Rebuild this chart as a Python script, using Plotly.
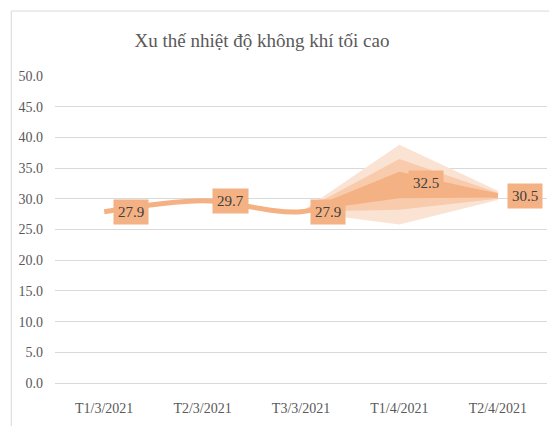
import plotly.graph_objects as go

categories = ["T1/3/2021", "T2/3/2021", "T3/3/2021", "T1/4/2021", "T2/4/2021"]
values = [27.9, 29.7, 27.9, 32.5, 30.5]

# forecast fan bands (from T3/3 to T2/4)
fan_idx = [2, 3, 4]
outer_upper = [27.9, 38.8, 31.3]
outer_lower = [27.9, 25.8, 29.8]
mid_upper = [27.9, 36.5, 31.0]
mid_lower = [27.9, 28.2, 30.0]
inner_upper = [27.9, 34.4, 30.8]
inner_lower = [27.9, 30.1, 30.2]

yticks = [0, 5, 10, 15, 20, 25, 30, 35, 40, 45, 50]
ytick_text = [f"{v:.1f}" for v in yticks]

C_DARK = "#F4B183"
C_MID = "#F8CBAD"
C_LIGHT = "#FBE3D3"
FONT = "Liberation Serif, Times New Roman, serif"

fig = go.Figure()

for up, lo, col in [(outer_upper, outer_lower, C_LIGHT),
                    (mid_upper, mid_lower, C_MID),
                    (inner_upper, inner_lower, C_DARK)]:
    fig.add_trace(go.Scatter(
        x=fan_idx + fan_idx[::-1],
        y=up + lo[::-1],
        fill="toself", fillcolor=col, mode="none",
        hoverinfo="skip", showlegend=False))

fig.add_trace(go.Scatter(
    x=list(range(len(categories))), y=values, mode="lines",
    line=dict(color=C_DARK, width=5, shape="spline", smoothing=0.9),
    showlegend=False))

for i, v in enumerate(values):
    fig.add_annotation(
        x=i, y=v, xref="x", yref="y", text=f"{v:.1f}", showarrow=False,
        xanchor="left", yanchor="middle", xshift=9,
        bgcolor=C_DARK, borderpad=4,
        font=dict(family=FONT, size=15, color="#404040"))

# outer chart frame
fig.add_shape(type="rect", xref="paper", yref="paper",
              x0=-44 / 495, y0=-0.3, x1=1.2, y1=1 + 66 / 312,
              line=dict(color="#D9D9D9", width=1), layer="below")

fig.update_layout(
    width=549, height=418,
    margin=dict(l=44, r=10, t=68, b=38),
    paper_bgcolor="white", plot_bgcolor="white",
    title=dict(text="Xu thế nhiệt độ không khí tối cao",
               x=254 / 549, xanchor="center", y=1 - 32 / 418, yanchor="middle",
               font=dict(family=FONT, size=19, color="#595959")),
    xaxis=dict(range=[-0.5, 4.5], tickvals=list(range(len(categories))),
               ticktext=categories, showgrid=False, zeroline=False,
               showline=True, linecolor="#D9D9D9", linewidth=1,
               ticks="", ticklabelstandoff=12,
               tickfont=dict(family=FONT, size=14, color="#595959")),
    yaxis=dict(range=[0, 50], tickvals=yticks, ticktext=ytick_text,
               showgrid=True, gridcolor="#D9D9D9", gridwidth=1,
               zeroline=False, showline=False, ticks="",
               ticklabelstandoff=11,
               tickfont=dict(family=FONT, size=14, color="#595959")),
)

fig.write_html("out.html")
